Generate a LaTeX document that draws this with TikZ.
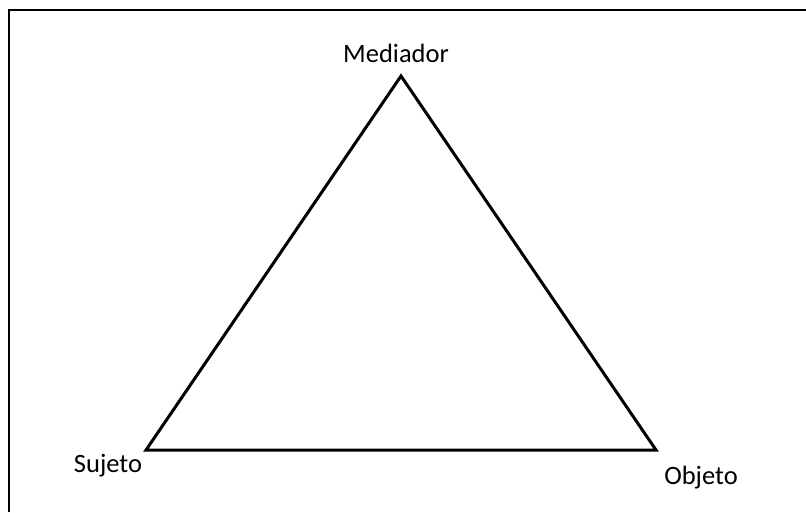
\documentclass[tikz,border=0pt]{standalone}
\usepackage{fontspec}
\setmainfont{Carlito}
\usetikzlibrary{positioning}

\begin{document}
\begin{tikzpicture}[
        x=1pt, y=-1pt,
        corner/.style={inner sep=0pt, anchor=base, font=\fontsize{26.5}{30}\selectfont},
        side/.style={line width=3pt, line join=miter},
        frame/.style={line width=2pt}
    ]
        \useasboundingbox (0,0) rectangle (806,512);
        % Frame
        \coordinate (ftl) at (9,10);
        \draw[frame] (9,512) -- (ftl) -- (806,10);

        % Vertices
        \coordinate (med) at (401,76);
        \coordinate (suj) at (146,450);
        \coordinate (obj) at (656,450);

        % Labels
        \node[corner] (lmed) at (396,62) {Mediador};
        \node[corner] (lsuj) at (108,472) {Sujeto};
        \node[corner] (lobj) at (701,484) {Objeto};

        % Triangle
        \draw[side] (med) -- (obj) -- (suj) -- cycle;
    \end{tikzpicture}
\end{document}
